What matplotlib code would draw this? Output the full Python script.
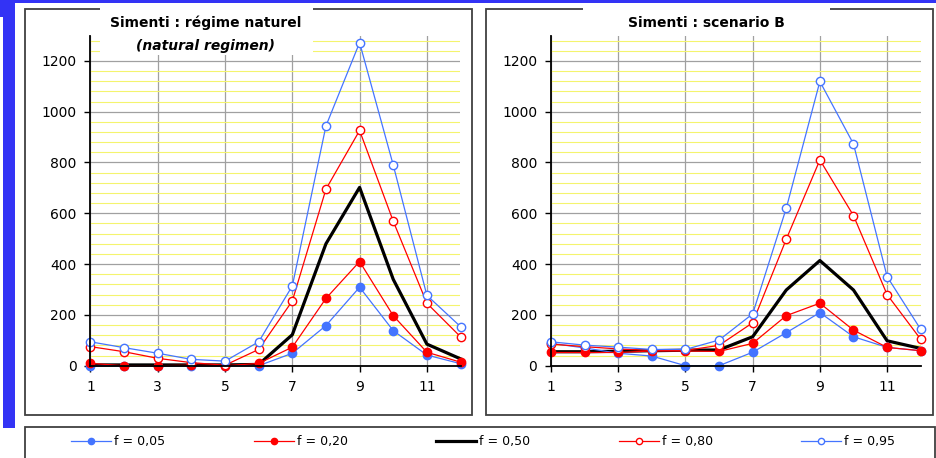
"""Simenti monthly flows: natural regime vs scenario B, five frequency curves."""

import matplotlib
matplotlib.use("Agg")
import matplotlib.pyplot as plt
from matplotlib.patches import Rectangle
from matplotlib.ticker import MultipleLocator

W, H = 937, 458

months = list(range(1, 13))

# natural regime
nat_f05 = [0, 0, 0, 0, 0, 0, 49, 158, 309, 138, 42, 8]
nat_f20 = [9, 0, 0, 2, 0, 9, 73, 265, 410, 197, 53, 14]
nat_f50 = [3, 3, 3, 3, 3, 5, 122, 480, 702, 340, 85, 27]
nat_f80 = [75, 55, 29, 12, 2, 64, 255, 695, 926, 569, 246, 114]
nat_f95 = [94, 71, 49, 25, 18, 94, 314, 944, 1272, 790, 277, 154]

# scenario B
scb_f05 = [88, 70, 49, 38, 0, 0, 53, 130, 209, 114, 72, 59]
scb_f20 = [52, 52, 52, 58, 58, 56, 88, 197, 246, 140, 72, 59]
scb_f50 = [55, 55, 57, 59, 61, 62, 114, 298, 414, 298, 98, 68]
scb_f80 = [85, 75, 66, 60, 60, 80, 169, 498, 810, 591, 280, 104]
scb_f95 = [94, 81, 73, 64, 64, 101, 204, 620, 1119, 873, 351, 143]

labels = ["f = 0,05", "f = 0,20", "f = 0,50", "f = 0,80", "f = 0,95"]

BLUE = "#4474ff"
RED = "#ff0000"
FRAME = "#404040"


def fx(x):
    return x / W


def fy(y):
    return 1 - y / H


def box(fig, x0, y0, x1, y1, **kw):
    r = Rectangle((fx(x0), fy(y1)), (x1 - x0) / W, (y1 - y0) / H,
                  transform=fig.transFigure, **kw)
    fig.add_artist(r)
    return r


def panel(fig, left, right, series):
    ax = fig.add_axes([fx(left), fy(365.7), (right - left) / W, (365.7 - 35.5) / H])
    f05, f20, f50, f80, f95 = series
    lines = {}
    lines[2], = ax.plot(months, f50, color="black", lw=2.3, clip_on=False)
    lines[0], = ax.plot(months, f05, color=BLUE, lw=0.9, marker="o", ms=6,
                        mfc=BLUE, mec=BLUE, clip_on=False)
    lines[1], = ax.plot(months, f20, color=RED, lw=0.9, marker="o", ms=6,
                        mfc=RED, mec=RED, clip_on=False)
    lines[3], = ax.plot(months, f80, color=RED, lw=0.9, marker="o", ms=6,
                        mfc="white", mec=RED, mew=1.0, clip_on=False)
    lines[4], = ax.plot(months, f95, color=BLUE, lw=0.9, marker="o", ms=6,
                        mfc="white", mec=BLUE, mew=1.0, clip_on=False)

    ax.set_xlim(1, 12)
    ax.set_ylim(0, 1300)
    ax.set_xticks([1, 3, 5, 7, 9, 11])
    ax.set_yticks(range(0, 1201, 200))
    ax.yaxis.set_minor_locator(MultipleLocator(40))
    ax.set_axisbelow(True)
    ax.grid(which="major", color="#a0a0a0", lw=0.9)
    ax.grid(which="minor", axis="y", color="#f4f46e", lw=0.8)
    ax.tick_params(which="major", length=4, width=1, pad=6, labelsize=10)
    ax.tick_params(which="minor", length=0)
    for s in ("top", "right"):
        ax.spines[s].set_visible(False)
    for s in ("left", "bottom"):
        ax.spines[s].set_linewidth(1.3)
    return ax, [lines[i] for i in range(5)]


fig = plt.figure(figsize=(W / 100, H / 100), dpi=100)

# blue slide background strips
box(fig, 0, 0, W, 3, fc="#3333f5", ec="none")
box(fig, 3, 0, 15, 428, fc="#3333f5", ec="none")
box(fig, 0, 0, 15, 17, fc="#3333f5", ec="none")

# panel frames
box(fig, 25, 9, 472, 415, fill=False, ec=FRAME, lw=1.3)
box(fig, 486, 9, 933, 415, fill=False, ec=FRAME, lw=1.3)
box(fig, 25, 427, 935, 480, fill=False, ec=FRAME, lw=1.3)

ax1, handles = panel(fig, 90.5, 460.5, [nat_f05, nat_f20, nat_f50, nat_f80, nat_f95])
ax2, _ = panel(fig, 551, 920.7, [scb_f05, scb_f20, scb_f50, scb_f80, scb_f95])

# titles sit on white boxes that break the frame
box(fig, 100, 4, 313, 55, fc="white", ec="none", zorder=3)
box(fig, 583, 4, 830, 33, fc="white", ec="none", zorder=3)
fig.text(fx(206), fy(23), "Simenti : régime naturel", ha="center", va="center",
         fontsize=10, fontweight="bold", zorder=4)
fig.text(fx(206), fy(46), "(natural regimen)", ha="center", va="center",
         fontsize=10, fontweight="bold", style="italic", zorder=4)
fig.text(fx(706), fy(23), "Simenti : scenario B", ha="center", va="center",
         fontsize=10, fontweight="bold", zorder=4)

fig.legend(handles, labels, loc="center left", bbox_to_anchor=(fx(71), fy(442)),
           ncol=5, frameon=False, fontsize=9, handlelength=3.2, handletextpad=0.25,
           columnspacing=7.07, borderpad=0, borderaxespad=0, markerscale=0.75)

fig.savefig("out.png", dpi=100)
